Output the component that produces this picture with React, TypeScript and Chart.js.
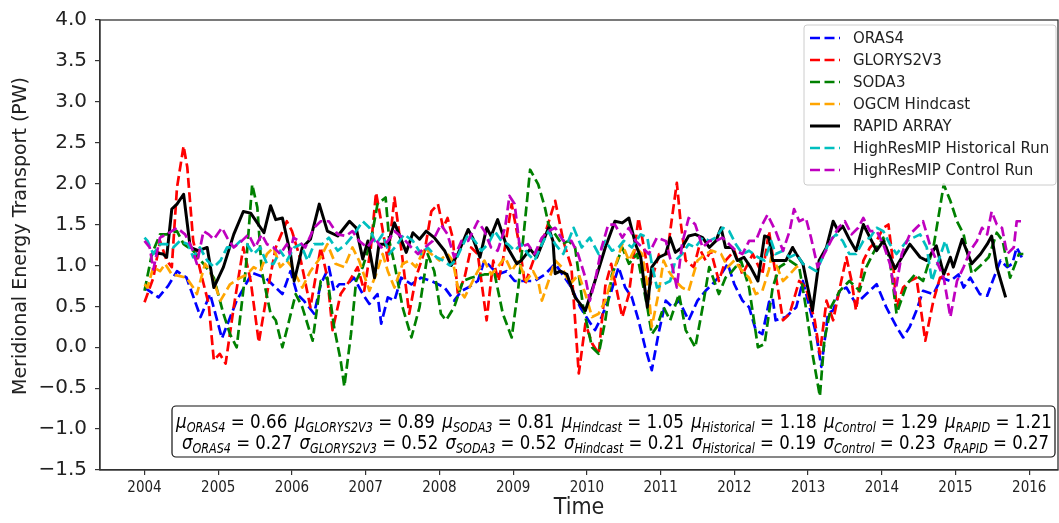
import React, { useEffect, useRef } from 'react';
import { Chart, registerables } from 'chart.js';

Chart.register(...registerables);

// ---------- data (decimal year, PW) ----------
const xTickYears = [2004, 2005, 2006, 2007, 2008, 2009, 2010, 2011, 2012, 2013, 2014, 2015, 2016];
const yMin = -1.5;
const yMax = 4.0;
const yStep = 0.5;

const oras4: [number, number][] = [
  [2004.00,0.73],[2004.19,0.61],[2004.32,0.75],[2004.44,0.93],[2004.57,0.85],[2004.76,0.37],[2004.89,0.65],[2005.05,0.11],[2005.25,0.57],[2005.46,0.91],[2005.64,0.85],[2005.87,0.65],[2005.98,0.93],[2006.07,0.65],[2006.16,0.57],[2006.30,0.41],[2006.39,0.77],[2006.50,0.98],[2006.57,0.69],[2006.64,0.77],[2006.75,0.77],[2006.84,0.85],[2006.96,0.65],[2007.05,0.53],[2007.16,0.65],[2007.21,0.29],[2007.30,0.61],[2007.39,0.57],[2007.48,0.85],[2007.62,0.77],[2007.75,0.85],[2007.89,0.81],[2007.98,0.77],[2008.07,0.73],[2008.20,0.57],[2008.30,0.69],[2008.39,0.73],[2008.52,0.81],[2008.61,1.06],[2008.70,0.98],[2008.79,0.89],[2008.91,0.93],[2009.02,0.81],[2009.16,0.81],[2009.29,0.81],[2009.43,0.89],[2009.57,1.02],[2009.70,0.85],[2009.79,0.73],[2009.91,0.49],[2010.02,0.33],[2010.11,0.21],[2010.20,0.37],[2010.32,0.65],[2010.43,0.98],[2010.52,0.73],[2010.61,0.61],[2010.70,0.33],[2010.79,0.00],[2010.88,-0.28],[2010.97,0.16],[2011.07,0.57],[2011.16,0.49],[2011.25,0.57],[2011.38,0.33],[2011.50,0.57],[2011.61,0.69],[2011.70,0.77],[2011.82,0.89],[2011.91,1.02],[2012.00,0.77],[2012.11,0.57],[2012.20,0.49],[2012.29,0.21],[2012.38,0.16],[2012.47,0.55],[2012.52,0.60],[2012.56,0.33],[2012.70,0.37],[2012.84,0.49],[2012.93,0.81],[2013.02,0.49],[2013.11,0.16],[2013.18,-0.24],[2013.27,0.41],[2013.34,0.45],[2013.43,0.69],[2013.52,0.73],[2013.65,0.53],[2013.79,0.65],[2013.93,0.77],[2014.06,0.49],[2014.20,0.25],[2014.29,0.12],[2014.38,0.25],[2014.47,0.45],[2014.56,0.69],[2014.70,0.65],[2014.81,0.85],[2014.93,0.81],[2015.04,0.89],[2015.11,0.73],[2015.20,0.85],[2015.33,0.65],[2015.43,0.63],[2015.52,0.85],[2015.61,1.06],[2015.70,0.98],[2015.77,1.02],[2015.83,1.22],[2015.92,1.06],
];

const glorys: [number, number][] = [
  [2004.00,0.55],[2004.12,0.85],[2004.21,1.30],[2004.30,1.06],[2004.37,0.98],[2004.44,1.95],[2004.53,2.46],[2004.58,2.20],[2004.66,1.30],[2004.78,0.85],[2004.87,0.53],[2004.94,-0.16],[2005.02,-0.08],[2005.10,-0.20],[2005.21,0.49],[2005.34,1.22],[2005.44,0.81],[2005.55,0.06],[2005.66,0.65],[2005.78,1.22],[2005.93,1.54],[2006.00,1.42],[2006.12,1.06],[2006.25,0.49],[2006.39,1.22],[2006.48,0.85],[2006.55,0.21],[2006.66,0.65],[2006.78,0.81],[2006.89,0.98],[2006.98,0.69],[2007.07,1.22],[2007.14,1.89],[2007.21,1.54],[2007.30,1.06],[2007.39,1.83],[2007.48,1.22],[2007.59,0.41],[2007.68,0.85],[2007.80,1.18],[2007.89,1.66],[2007.98,1.75],[2008.05,1.46],[2008.11,1.58],[2008.18,1.34],[2008.25,0.65],[2008.34,0.85],[2008.43,1.22],[2008.52,1.14],[2008.64,0.33],[2008.73,1.06],[2008.80,0.81],[2008.86,1.06],[2008.98,1.75],[2009.09,1.22],[2009.16,0.77],[2009.29,1.10],[2009.43,1.38],[2009.57,1.79],[2009.68,1.30],[2009.79,0.98],[2009.84,0.33],[2009.89,-0.32],[2009.98,0.29],[2010.07,0.05],[2010.16,-0.08],[2010.25,0.75],[2010.33,1.02],[2010.48,0.37],[2010.57,0.65],[2010.70,1.58],[2010.79,1.14],[2010.86,0.77],[2010.98,1.14],[2011.09,1.14],[2011.16,1.62],[2011.22,2.01],[2011.27,1.54],[2011.34,1.06],[2011.45,0.98],[2011.52,1.22],[2011.61,1.06],[2011.68,1.18],[2011.79,0.81],[2011.88,1.06],[2012.00,1.18],[2012.11,0.89],[2012.25,1.14],[2012.38,0.89],[2012.47,1.42],[2012.56,0.89],[2012.66,0.33],[2012.75,0.41],[2012.88,0.81],[2012.97,0.73],[2013.09,0.33],[2013.16,-0.08],[2013.25,0.57],[2013.34,0.33],[2013.45,0.81],[2013.52,1.10],[2013.59,0.81],[2013.65,0.45],[2013.75,1.06],[2013.84,1.22],[2013.93,1.30],[2014.02,1.46],[2014.09,1.50],[2014.15,1.06],[2014.20,0.49],[2014.29,0.73],[2014.38,0.81],[2014.47,0.85],[2014.59,0.08],[2014.70,0.57],[2014.79,0.85],[2014.92,0.90],
];

const soda3: [number, number][] = [
  [2004.00,0.69],[2004.10,1.14],[2004.21,1.38],[2004.30,1.38],[2004.44,1.42],[2004.53,1.26],[2004.66,1.18],[2004.80,1.02],[2004.94,0.85],[2005.07,0.41],[2005.16,0.16],[2005.25,0.00],[2005.37,0.93],[2005.46,1.99],[2005.53,1.71],[2005.59,0.93],[2005.71,0.41],[2005.78,0.33],[2005.87,0.00],[2005.94,0.25],[2006.05,0.65],[2006.14,0.49],[2006.28,0.08],[2006.39,0.81],[2006.48,0.85],[2006.57,0.25],[2006.66,-0.16],[2006.71,-0.48],[2006.80,0.16],[2006.87,0.81],[2006.96,0.98],[2007.07,1.30],[2007.16,1.75],[2007.27,1.83],[2007.32,1.30],[2007.39,1.02],[2007.50,0.49],[2007.62,0.12],[2007.73,0.49],[2007.84,1.14],[2007.93,0.93],[2008.02,0.41],[2008.09,0.33],[2008.20,0.49],[2008.32,0.81],[2008.43,0.85],[2008.61,0.89],[2008.75,0.89],[2008.86,0.41],[2008.98,0.12],[2009.07,0.73],[2009.16,1.54],[2009.23,2.17],[2009.34,1.99],[2009.43,1.71],[2009.48,1.50],[2009.57,1.38],[2009.66,1.26],[2009.75,1.30],[2009.84,1.22],[2009.95,0.49],[2010.07,0.00],[2010.16,-0.08],[2010.25,0.33],[2010.34,0.89],[2010.40,1.02],[2010.48,1.22],[2010.57,1.02],[2010.68,1.14],[2010.75,0.81],[2010.82,0.49],[2010.88,0.16],[2010.95,0.25],[2011.04,0.49],[2011.13,0.33],[2011.25,0.65],[2011.34,0.21],[2011.47,0.00],[2011.57,0.49],[2011.66,0.98],[2011.79,0.65],[2011.88,0.85],[2011.97,0.93],[2012.09,1.06],[2012.20,0.73],[2012.32,0.00],[2012.41,0.04],[2012.52,0.73],[2012.61,0.98],[2012.75,1.06],[2012.88,0.98],[2012.97,0.49],[2013.06,-0.08],[2013.16,-0.60],[2013.22,0.08],[2013.31,0.49],[2013.43,0.69],[2013.56,0.81],[2013.70,0.69],[2013.79,0.98],[2013.90,1.18],[2014.02,1.34],[2014.11,1.06],[2014.20,0.41],[2014.34,0.77],[2014.45,0.89],[2014.56,0.81],[2014.70,1.22],[2014.79,1.71],[2014.84,1.99],[2014.93,1.79],[2015.02,1.54],[2015.11,1.38],[2015.22,0.90],[2015.34,1.00],[2015.45,1.10],[2015.56,1.40],[2015.64,1.30],[2015.74,0.85],[2015.86,1.14],[2015.92,1.14],
];

const hindcast: [number, number][] = [
  [2004.00,0.77],[2004.04,0.73],[2004.12,0.98],[2004.21,0.93],[2004.28,1.02],[2004.37,0.89],[2004.48,0.87],[2004.57,0.85],[2004.66,0.73],[2004.71,0.65],[2004.82,1.02],[2004.89,0.93],[2005.03,0.57],[2005.16,0.77],[2005.30,0.85],[2005.39,0.89],[2005.48,0.98],[2005.57,0.93],[2005.66,1.14],[2005.75,1.22],[2005.84,0.98],[2005.93,1.06],[2006.00,0.98],[2006.07,0.85],[2006.14,0.73],[2006.25,0.93],[2006.39,1.10],[2006.48,1.26],[2006.59,1.02],[2006.71,0.98],[2006.82,1.22],[2006.91,1.06],[2007.05,0.69],[2007.14,0.89],[2007.23,1.14],[2007.30,0.93],[2007.39,0.73],[2007.50,1.02],[2007.59,1.06],[2007.68,0.98],[2007.80,1.22],[2007.89,1.14],[2008.00,1.06],[2008.11,1.14],[2008.18,1.06],[2008.25,0.73],[2008.34,0.61],[2008.43,0.77],[2008.52,0.93],[2008.61,1.06],[2008.70,0.89],[2008.79,0.98],[2008.89,1.10],[2008.98,0.93],[2009.07,1.06],[2009.18,0.81],[2009.27,0.93],[2009.34,0.81],[2009.39,0.57],[2009.48,0.81],[2009.57,1.06],[2009.66,0.98],[2009.77,0.77],[2009.89,0.89],[2009.98,0.65],[2010.07,0.37],[2010.16,0.41],[2010.25,0.57],[2010.34,0.85],[2010.38,0.98],[2010.48,1.26],[2010.57,1.06],[2010.66,1.22],[2010.75,1.14],[2010.84,0.65],[2010.88,0.25],[2010.97,0.65],[2011.04,1.06],[2011.11,0.93],[2011.20,0.81],[2011.29,0.73],[2011.38,0.69],[2011.50,1.06],[2011.61,1.14],[2011.70,1.18],[2011.82,1.14],[2011.91,0.98],[2012.00,1.06],[2012.11,0.93],[2012.20,0.85],[2012.29,0.65],[2012.38,0.69],[2012.47,0.95],[2012.50,1.10],[2012.56,1.02],[2012.66,0.81],[2012.75,0.89],[2012.84,0.98],[2012.92,1.02],
];

const rapid: [number, number][] = [
  [2004.10,1.16],[2004.25,1.14],[2004.30,1.10],[2004.37,1.69],[2004.44,1.75],[2004.53,1.87],[2004.62,1.22],[2004.73,1.18],[2004.85,1.22],[2004.94,0.73],[2005.07,0.98],[2005.21,1.38],[2005.34,1.66],[2005.44,1.64],[2005.62,1.40],[2005.71,1.73],[2005.78,1.56],[2005.87,1.58],[2005.98,1.14],[2006.03,0.81],[2006.14,1.22],[2006.25,1.32],[2006.37,1.75],[2006.48,1.42],[2006.62,1.36],[2006.78,1.54],[2006.87,1.46],[2006.96,1.08],[2007.03,1.30],[2007.12,0.85],[2007.18,1.26],[2007.30,1.26],[2007.39,1.52],[2007.55,1.16],[2007.64,1.40],[2007.73,1.32],[2007.82,1.42],[2007.93,1.34],[2008.07,1.18],[2008.16,1.00],[2008.25,1.14],[2008.39,1.44],[2008.45,1.34],[2008.55,1.10],[2008.64,1.46],[2008.70,1.36],[2008.79,1.56],[2008.91,1.24],[2009.05,1.02],[2009.11,1.06],[2009.23,1.20],[2009.32,1.10],[2009.48,1.46],[2009.54,1.30],[2009.57,0.90],[2009.64,0.93],[2009.73,0.89],[2009.84,0.61],[2009.98,0.45],[2010.11,0.81],[2010.25,1.22],[2010.38,1.54],[2010.48,1.52],[2010.57,1.58],[2010.66,1.26],[2010.73,1.10],[2010.82,0.49],[2010.88,0.98],[2010.98,1.10],[2011.07,1.14],[2011.13,1.34],[2011.20,1.16],[2011.29,1.22],[2011.38,1.36],[2011.47,1.38],[2011.57,1.34],[2011.66,1.22],[2011.75,1.30],[2011.82,1.46],[2011.88,1.22],[2011.97,1.22],[2012.04,1.06],[2012.13,1.10],[2012.22,0.98],[2012.32,0.81],[2012.41,1.36],[2012.47,1.34],[2012.52,1.06],[2012.70,1.06],[2012.79,1.22],[2012.84,1.14],[2012.93,1.02],[2013.06,0.45],[2013.15,1.06],[2013.25,1.22],[2013.34,1.54],[2013.41,1.42],[2013.47,1.48],[2013.56,1.32],[2013.65,1.18],[2013.75,1.50],[2013.84,1.34],[2013.93,1.18],[2014.02,1.30],[2014.18,0.96],[2014.38,1.26],[2014.52,1.10],[2014.61,1.06],[2014.74,1.24],[2014.84,0.89],[2014.93,1.10],[2014.97,0.98],[2015.09,1.32],[2015.22,1.02],[2015.34,1.14],[2015.43,1.26],[2015.49,1.36],[2015.56,0.98],[2015.68,0.61],
];

const historical: [number, number][] = [
  [2004.00,1.34],[2004.04,1.30],[2004.12,1.14],[2004.21,1.26],[2004.30,1.26],[2004.39,1.22],[2004.48,1.30],[2004.59,1.26],[2004.66,1.10],[2004.75,1.22],[2004.85,1.06],[2004.94,0.98],[2005.03,1.06],[2005.12,1.22],[2005.21,1.22],[2005.30,1.30],[2005.39,1.26],[2005.48,1.14],[2005.57,1.22],[2005.66,1.02],[2005.75,1.02],[2005.84,1.18],[2005.93,1.06],[2006.03,1.22],[2006.12,1.26],[2006.21,1.06],[2006.30,1.26],[2006.41,1.26],[2006.50,1.34],[2006.62,1.18],[2006.73,1.26],[2006.84,1.38],[2006.96,1.54],[2007.05,1.46],[2007.14,1.26],[2007.23,1.38],[2007.32,1.14],[2007.43,1.26],[2007.52,1.38],[2007.64,1.30],[2007.75,1.14],[2007.84,1.22],[2007.96,1.10],[2008.05,1.06],[2008.14,1.00],[2008.22,1.06],[2008.30,1.22],[2008.39,1.38],[2008.48,1.30],[2008.57,1.18],[2008.66,1.26],[2008.75,1.42],[2008.84,1.30],[2008.93,1.26],[2009.02,1.18],[2009.11,1.26],[2009.20,1.14],[2009.29,1.06],[2009.39,1.26],[2009.48,1.42],[2009.57,1.26],[2009.68,1.14],[2009.82,1.46],[2009.93,1.22],[2010.04,1.34],[2010.16,1.14],[2010.25,1.30],[2010.34,1.18],[2010.43,1.22],[2010.50,1.30],[2010.61,1.22],[2010.73,1.38],[2010.82,1.34],[2010.88,1.02],[2010.95,0.73],[2011.04,0.77],[2011.13,0.81],[2011.20,1.06],[2011.29,1.14],[2011.38,1.26],[2011.47,1.22],[2011.57,1.34],[2011.66,1.30],[2011.75,1.34],[2011.84,1.46],[2011.93,1.42],[2012.02,1.26],[2012.11,1.14],[2012.20,1.18],[2012.32,1.10],[2012.41,1.06],[2012.50,1.30],[2012.56,1.14],[2012.66,1.18],[2012.75,1.10],[2012.84,1.14],[2012.93,1.02],[2013.02,0.98],[2013.11,0.93],[2013.20,1.10],[2013.29,1.30],[2013.38,1.38],[2013.47,1.30],[2013.56,1.14],[2013.65,1.14],[2013.75,1.30],[2013.84,1.34],[2013.93,1.46],[2014.02,1.42],[2014.11,1.26],[2014.20,1.14],[2014.34,1.30],[2014.43,1.34],[2014.52,1.38],[2014.61,1.22],[2014.68,0.81],[2014.77,1.06],[2014.86,1.30],[2014.92,1.12],
];

const control: [number, number][] = [
  [2004.00,1.30],[2004.07,1.22],[2004.12,0.95],[2004.21,1.34],[2004.30,1.38],[2004.44,1.46],[2004.55,1.38],[2004.64,1.22],[2004.71,1.02],[2004.80,1.42],[2004.87,1.38],[2004.94,1.32],[2005.05,1.46],[2005.12,1.34],[2005.21,1.22],[2005.32,1.30],[2005.41,1.38],[2005.50,1.22],[2005.59,1.38],[2005.66,1.26],[2005.75,1.22],[2005.84,1.14],[2005.93,1.26],[2005.97,1.14],[2006.02,1.34],[2006.09,1.30],[2006.18,1.22],[2006.30,1.46],[2006.39,1.54],[2006.50,1.54],[2006.62,1.38],[2006.73,1.36],[2006.82,1.42],[2006.91,1.30],[2007.02,1.22],[2007.12,1.34],[2007.21,1.22],[2007.30,1.30],[2007.39,1.42],[2007.50,1.34],[2007.62,1.22],[2007.71,1.14],[2007.80,1.22],[2007.91,1.30],[2008.02,1.50],[2008.11,1.38],[2008.20,1.10],[2008.30,1.30],[2008.39,1.30],[2008.52,1.54],[2008.61,1.42],[2008.70,1.22],[2008.79,1.18],[2008.89,1.46],[2008.95,1.85],[2009.02,1.75],[2009.09,1.22],[2009.20,1.26],[2009.29,1.14],[2009.39,1.34],[2009.48,1.42],[2009.57,1.46],[2009.68,1.30],[2009.79,1.30],[2009.88,1.14],[2009.98,0.85],[2010.04,0.57],[2010.11,0.81],[2010.20,1.22],[2010.29,1.50],[2010.38,1.50],[2010.48,1.34],[2010.57,1.46],[2010.66,1.30],[2010.75,1.22],[2010.84,1.14],[2010.95,1.34],[2011.07,1.30],[2011.16,0.98],[2011.22,0.73],[2011.29,1.26],[2011.38,1.58],[2011.47,1.50],[2011.57,1.22],[2011.66,1.30],[2011.75,1.30],[2011.84,1.34],[2011.93,1.26],[2012.02,1.18],[2012.11,1.14],[2012.20,1.30],[2012.29,1.30],[2012.38,1.50],[2012.45,1.62],[2012.56,1.42],[2012.66,1.18],[2012.75,1.42],[2012.81,1.69],[2012.88,1.54],[2012.97,1.58],[2013.04,1.34],[2013.13,0.98],[2013.22,1.14],[2013.31,1.30],[2013.41,1.46],[2013.50,1.54],[2013.59,1.38],[2013.68,1.46],[2013.75,1.58],[2013.84,1.42],[2013.93,1.42],[2014.02,1.26],[2014.11,1.02],[2014.18,0.65],[2014.27,1.14],[2014.38,1.38],[2014.47,1.46],[2014.56,1.54],[2014.65,1.26],[2014.74,1.06],[2014.84,0.85],[2014.93,0.37],[2015.02,0.81],[2015.11,0.98],[2015.20,1.18],[2015.29,1.30],[2015.36,1.46],[2015.43,1.38],[2015.49,1.66],[2015.56,1.50],[2015.63,1.46],[2015.70,1.14],[2015.79,1.22],[2015.83,1.54],[2015.92,1.54],
];

const seriesLabels = ['ORAS4', 'GLORYS2V3', 'SODA3', 'OGCM Hindcast', 'RAPID ARRAY', 'HighResMIP Historical Run', 'HighResMIP Control Run'];
const seriesColors = ['#0000ff', '#ff0000', '#008000', '#ffa500', '#000000', '#00bfbf', '#bf00bf'];
const seriesDashed = [true, true, true, true, false, true, true];

const statKeys = ['ORAS4', 'GLORYS2V3', 'SODA3', 'Hindcast', 'Historical', 'Control', 'RAPID'];
const statMeans = ['0.66', '0.89', '0.81', '1.05', '1.18', '1.29', '1.21'];
const statStds = ['0.27', '0.52', '0.52', '0.21', '0.19', '0.23', '0.27'];

const yTitle = 'Meridional Energy Transport (PW)';
const xTitle = 'Time';

const SANS = '"DejaVu Sans", "Liberation Sans", sans-serif';
const COND = '"DejaVu Sans Condensed", "Liberation Sans Narrow", "DejaVu Sans", sans-serif';
const DASH = [10, 4.5];
const DASH_W = 2.7;
const SOLID_W = 3;

function rr(ctx: CanvasRenderingContext2D, x: number, y: number, w: number, h: number, r: number) {
  ctx.beginPath();
  ctx.moveTo(x + r, y);
  ctx.lineTo(x + w - r, y);
  ctx.arcTo(x + w, y, x + w, y + r, r);
  ctx.lineTo(x + w, y + h - r);
  ctx.arcTo(x + w, y + h, x + w - r, y + h, r);
  ctx.lineTo(x + r, y + h);
  ctx.arcTo(x, y + h, x, y + h - r, r);
  ctx.lineTo(x, y + r);
  ctx.arcTo(x, y, x + r, y, r);
  ctx.closePath();
}

const decorPlugin = {
  id: 'decor',
  afterDraw(chart: any) {
    const ctx: CanvasRenderingContext2D = chart.ctx;
    const a = chart.chartArea;
    ctx.save();
    // frame
    ctx.strokeStyle = '#333';
    ctx.lineWidth = 1.3;
    ctx.setLineDash([]);
    ctx.strokeRect(a.left, a.top, a.right - a.left, a.bottom - a.top);

    // axis titles
    ctx.fillStyle = '#222';
    ctx.textAlign = 'center';
    ctx.textBaseline = 'middle';
    ctx.font = `19px ${SANS}`;
    ctx.save();
    ctx.translate(21, 236);
    ctx.rotate(-Math.PI / 2);
    ctx.fillText(yTitle, 0, 0);
    ctx.restore();
    ctx.font = `23px ${COND}`;
    ctx.fillText(xTitle, (a.left + a.right) / 2, 508);

    // legend
    const lx = 804, ly = 25, lw = 252, lh = 160;
    rr(ctx, lx, ly, lw, lh, 3);
    ctx.fillStyle = 'rgba(255,255,255,0.8)';
    ctx.fill();
    ctx.strokeStyle = '#cccccc';
    ctx.lineWidth = 1;
    ctx.stroke();
    ctx.font = `15px ${SANS}`;
    ctx.textAlign = 'left';
    ctx.textBaseline = 'middle';
    seriesLabels.forEach((lab, i) => {
      const y = 38 + 22 * i;
      ctx.strokeStyle = seriesColors[i];
      ctx.lineWidth = seriesDashed[i] ? DASH_W : SOLID_W;
      ctx.setLineDash(seriesDashed[i] ? DASH : []);
      ctx.beginPath();
      ctx.moveTo(810, y);
      ctx.lineTo(840, y);
      ctx.stroke();
      ctx.setLineDash([]);
      ctx.fillStyle = '#222';
      ctx.fillText(lab, 853, y + 1);
    });

    // statistics box
    const bx = 172, by = 406, bw = 883, bh = 51;
    rr(ctx, bx, by, bw, bh, 4);
    ctx.fillStyle = 'rgba(255,255,255,0.9)';
    ctx.fill();
    ctx.strokeStyle = '#111';
    ctx.lineWidth = 1.2;
    ctx.stroke();

    const mainF = `20px ${COND}`;
    const symF = `italic 20px ${COND}`;
    const subF = `italic 13.5px ${COND}`;
    const gap = 8;
    const lines = [
      { sym: 'μ', vals: statMeans, x0: 176, x1: 1052, y: 421 },
      { sym: 'σ', vals: statStds, x0: 182, x1: 1049, y: 442 },
    ];
    ctx.fillStyle = '#000';
    ctx.textBaseline = 'alphabetic';
    ctx.textAlign = 'left';
    lines.forEach((ln) => {
      const pieces: { t: string; f: string; dy: number; g: number }[] = [];
      statKeys.forEach((k, i) => {
        pieces.push({ t: ln.sym, f: symF, dy: 0, g: 0 });
        pieces.push({ t: k, f: subF, dy: 4, g: 0 });
        pieces.push({ t: ' = ' + ln.vals[i], f: mainF, dy: 0, g: i < statKeys.length - 1 ? gap : 0 });
      });
      let total = 0;
      pieces.forEach((p) => {
        ctx.font = p.f;
        total += ctx.measureText(p.t).width + p.g;
      });
      const sc = (ln.x1 - ln.x0) / total;
      ctx.save();
      ctx.translate(ln.x0, ln.y + 7);
      ctx.scale(sc, 1);
      let x = 0;
      pieces.forEach((p) => {
        ctx.font = p.f;
        ctx.fillText(p.t, x, p.dy);
        x += ctx.measureText(p.t).width + p.g;
      });
      ctx.restore();
    });
    ctx.restore();
  },
};

export default function App() {
  const ref = useRef<HTMLCanvasElement | null>(null);
  useEffect(() => {
    document.body.style.margin = '0';
    const all = [oras4, glorys, soda3, hindcast, rapid, historical, control];
    const datasets = all.map((arr, i) => ({
      label: seriesLabels[i],
      data: arr.map(([x, y]) => ({ x, y })),
      borderColor: seriesColors[i],
      backgroundColor: seriesColors[i],
      borderWidth: seriesDashed[i] ? DASH_W : SOLID_W,
      borderDash: seriesDashed[i] ? DASH : [],
      borderJoinStyle: 'round',
      pointRadius: 0,
      tension: 0,
      fill: false,
      order: all.length - i,
    }));
    const gridOpts = {
      display: true,
      drawOnChartArea: false,
      drawTicks: true,
      tickLength: 5,
      color: '#333',
      lineWidth: 1.2,
    };
    const chart = new Chart(ref.current as HTMLCanvasElement, {
      type: 'line',
      data: { datasets } as any,
      options: {
        animation: false,
        responsive: false,
        devicePixelRatio: 1,
        layout: { padding: { top: 18, right: 1, left: 0, bottom: 0 } },
        plugins: { legend: { display: false }, tooltip: { enabled: false } },
        scales: {
          x: {
            type: 'linear',
            min: 2003.396,
            max: 2016.39,
            afterBuildTicks: (s: any) => {
              s.ticks = xTickYears.map((v) => ({ value: v }));
            },
            afterFit: (s: any) => {
              s.height = 53;
            },
            grid: gridOpts,
            border: { display: true, color: '#333', width: 1.3 },
            ticks: {
              font: { family: COND, size: 15 },
              color: '#222',
              padding: 4,
              maxRotation: 0,
              autoSkip: false,
              callback: (v: any) => String(v),
            },
          },
          y: {
            type: 'linear',
            min: yMin,
            max: yMax,
            afterFit: (s: any) => {
              s.width = 100;
            },
            grid: gridOpts,
            border: { display: true, color: '#333', width: 1.3 },
            ticks: {
              stepSize: yStep,
              font: { family: SANS, size: 20 },
              color: '#222',
              padding: 8,
              callback: (v: any) => {
                const n = Number(v);
                return (n < -1e-9 ? '\u2212' : '') + Math.abs(n).toFixed(1);
              },
            },
          },
        },
      } as any,
      plugins: [decorPlugin],
    });
    return () => chart.destroy();
  }, []);
  return (
    <div style={{ position: 'fixed', left: 0, top: 0, width: 1059, height: 523, background: '#fff' }}>
      <canvas ref={ref} width={1059} height={523} style={{ display: 'block' }} />
    </div>
  );
}
